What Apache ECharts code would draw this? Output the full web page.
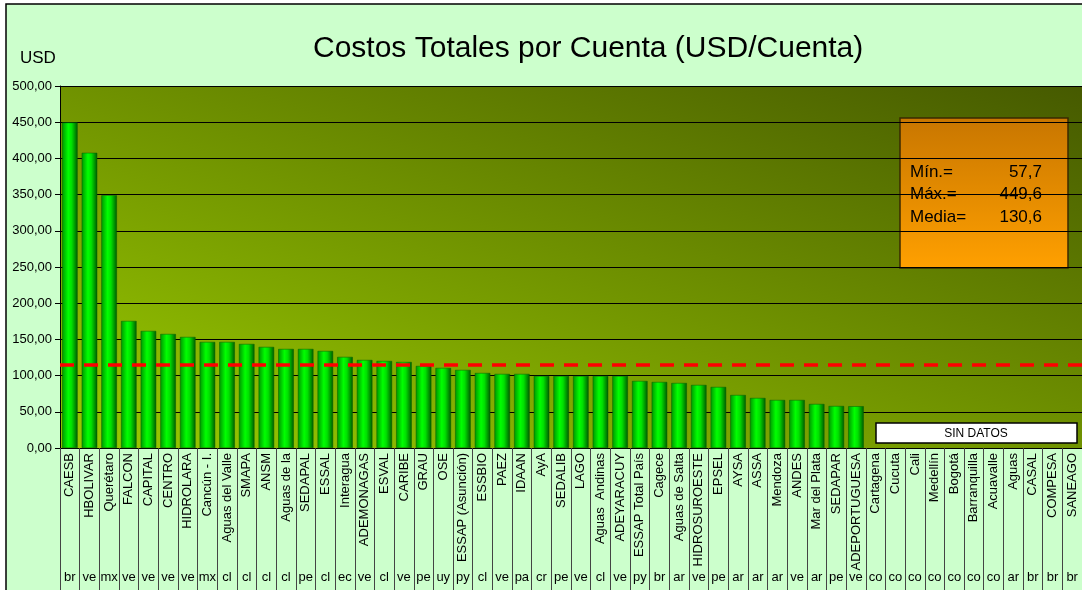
<!DOCTYPE html>
<html>
<head>
<meta charset="utf-8">
<title>Costos Totales por Cuenta</title>
<script src="https://cdn.jsdelivr.net/npm/echarts@6/dist/echarts.min.js"></script>
<style>
    html, body { margin: 0; padding: 0; background: #ffffff; }
    #chart { width: 1082px; height: 590px; }
</style>
</head>
<body>
<div id="chart"></div>
<script>
// Chart data
const utilities = [
    'CAESB', 'HBOLIVAR', 'Querétaro', 'FALCON', 'CAPITAL', 'CENTRO', 'HIDROLARA', 'Cancún - I.',
    'Aguas del Valle', 'SMAPA', 'ANSM', 'Aguas de la', 'SEDAPAL', 'ESSAL', 'Interagua', 'ADEMONAGAS',
    'ESVAL', 'CARIBE', 'GRAU', 'OSE', 'ESSAP (Asunción)', 'ESSBIO', 'PAEZ', 'IDAAN', 'AyA', 'SEDALIB',
    'LAGO', 'Aguas  Andinas', 'ADEYARACUY', 'ESSAP Total País', 'Cagece', 'Aguas de Salta',
    'HIDROSUROESTE', 'EPSEL', 'AYSA', 'ASSA', 'Mendoza', 'ANDES', 'Mar del Plata', 'SEDAPAR',
    'ADEPORTUGUESA', 'Cartagena', 'Cucuta', 'Cali', 'Medellín', 'Bogotá', 'Barranquilla',
    'Acuavalle', 'Aguas', 'CASAL', 'COMPESA', 'SANEAGO'
];

const countries = [
    'br', 've', 'mx', 've', 've', 've', 've', 'mx', 'cl', 'cl', 'cl', 'cl', 'pe', 'cl', 'ec', 've',
    'cl', 've', 'pe', 'uy', 'py', 'cl', 've', 'pa', 'cr', 'pe', 've', 'cl', 've', 'py', 'br', 'ar',
    've', 'pe', 'ar', 'ar', 'ar', 've', 'ar', 'pe', 've', 'co', 'co', 'co', 'co', 'co', 'co', 'co',
    'ar', 'br', 'br', 'br'
];

// USD per account; the last utilities have no data
const costs = [
    449.6, 407.7, 349.2, 175.5, 161.7, 157.5, 153.4, 146.5, 146.5, 143.7, 139.6, 136.8, 136.8,
    134.0, 125.8, 121.6, 120.2, 118.8, 113.3, 110.6, 107.8, 103.6, 102.3, 102.3, 99.5, 99.5, 99.5,
    99.5, 99.5, 92.6, 91.2, 89.8, 87.1, 84.3, 73.2, 69.1, 66.3, 66.3, 60.8, 58.0, 57.7,
    null, null, null, null, null, null, null, null, null, null, null
];

const yTicks = [0, 50, 100, 150, 200, 250, 300, 350, 400, 450, 500];
const meanLine = 115.6;
const summaryLabels = ['Mín.=', 'Máx.=', 'Media='];
const summaryValues = ['57,7', '449,6', '130,6'];

const FONT = '"Liberation Sans", Arial, sans-serif';

document.addEventListener('DOMContentLoaded', function() {
    initChart();
});

function initChart() {
    const chart = echarts.init(document.getElementById('chart'));

    // cylinder-like shading on the bars
    const barColor = new echarts.graphic.LinearGradient(0, 0, 1, 0, [
        { offset: 0, color: '#009400' },
        { offset: 0.4, color: '#00ff00' },
        { offset: 0.62, color: '#00e000' },
        { offset: 1, color: '#005a00' }
    ]);

    // summary box (Mín / Máx / Media)
    const summaryChildren = [{
        type: 'rect',
        shape: { x: 900, y: 118, width: 168, height: 150 },
        style: {
            fill: new echarts.graphic.LinearGradient(0, 0, 0, 1, [
                { offset: 0, color: '#c87600' },
                { offset: 1, color: '#ffa000' }
            ]),
            stroke: '#3a2a00', lineWidth: 1.5
        }
    }];
    summaryLabels.forEach((lab, i) => {
        const y = 172 + i * 22.5;
        summaryChildren.push({
            type: 'text',
            style: { x: 910, y: y, text: lab, font: '17px ' + FONT, fill: '#000', verticalAlign: 'middle' }
        });
        summaryChildren.push({
            type: 'text',
            style: { x: 1042, y: y, text: summaryValues[i], font: '17px ' + FONT, fill: '#000',
                     align: 'right', verticalAlign: 'middle' }
        });
    });

    const option = {
        backgroundColor: '#ffffff',
        animation: false,
        textStyle: { fontFamily: FONT },
        title: {
            text: 'Costos Totales por Cuenta (USD/Cuenta)',
            left: 313,
            top: 34,
            padding: 0,
            textStyle: { fontSize: 30, fontWeight: 'normal', color: '#000', fontFamily: FONT }
        },
        grid: {
            left: 60,
            right: 0,
            top: 86,
            bottom: 142,
            show: true,
            borderWidth: 0,
            // diagonal fill: light at bottom-left, dark at top-right
            backgroundColor: new echarts.graphic.LinearGradient(0, 1, 0.223, -0.777, [
                { offset: 0, color: '#9acb00' },
                { offset: 1, color: '#465a00' }
            ])
        },
        graphic: [
            {
                type: 'rect', z: -10, silent: true,
                shape: { x: 6, y: 4, width: 1100, height: 600 },
                style: { fill: '#ccffcc', stroke: '#000', lineWidth: 1.5 }
            },
            {
                type: 'text', z: 10,
                style: { x: 20, y: 58, text: 'USD', font: '17px ' + FONT, fill: '#000', verticalAlign: 'middle' }
            },
            { type: 'group', z: 10, children: summaryChildren },
            {
                type: 'group', z: 10,
                children: [
                    {
                        type: 'rect',
                        shape: { x: 876, y: 423, width: 201, height: 20 },
                        style: { fill: '#ffffff', stroke: '#000', lineWidth: 1.5 }
                    },
                    {
                        type: 'text',
                        style: { x: 976, y: 433.5, text: 'SIN DATOS', font: '12px ' + FONT, fill: '#000',
                                 align: 'center', verticalAlign: 'middle' }
                    }
                ]
            }
        ],
        xAxis: [
            {
                type: 'category',
                data: utilities,
                axisLine: { show: true, lineStyle: { color: '#000', width: 1 } },
                axisTick: { show: true, interval: 0, length: 142, lineStyle: { color: '#444', width: 1 } },
                axisLabel: {
                    interval: 0, rotate: 90, margin: 5,
                    fontSize: 13, color: '#000', fontFamily: FONT
                },
                splitLine: { show: false }
            },
            {
                type: 'category',
                data: countries,
                position: 'bottom',
                offset: 118,
                axisLine: { show: false },
                axisTick: { show: false },
                axisLabel: { interval: 0, margin: 5, fontSize: 13, color: '#000', fontFamily: FONT },
                splitLine: { show: false }
            }
        ],
        yAxis: {
            type: 'value',
            min: yTicks[0],
            max: yTicks[yTicks.length - 1],
            interval: yTicks[1] - yTicks[0],
            axisLine: { show: true, lineStyle: { color: '#000', width: 1 } },
            axisTick: { show: true, length: 5, lineStyle: { color: '#000' } },
            axisLabel: {
                margin: 8, fontSize: 13, color: '#000', fontFamily: FONT,
                formatter: v => v.toFixed(2).replace('.', ',')
            },
            splitLine: { show: true, lineStyle: { color: '#000', width: 1 } }
        },
        series: [{
            type: 'bar',
            data: costs,
            barCategoryGap: '21%',
            itemStyle: { color: barColor, borderColor: '#006000', borderWidth: 0.5 },
            markLine: {
                silent: true,
                symbol: 'none',
                label: { show: false },
                lineStyle: { color: '#ff0000', type: [14, 10], width: 3.5 },
                data: [{ yAxis: meanLine }]
            }
        }]
    };

    chart.setOption(option);

    window.addEventListener('resize', function() {
        chart.resize();
    });
}
</script>
</body>
</html>
